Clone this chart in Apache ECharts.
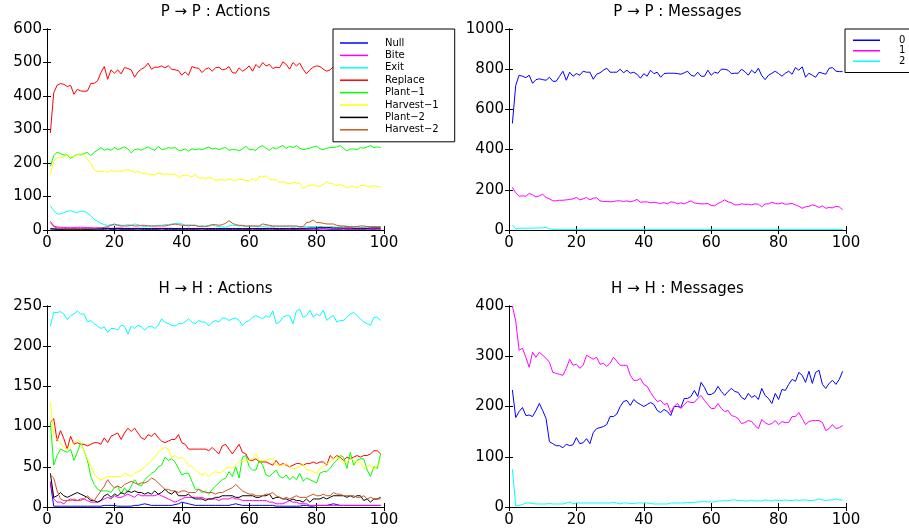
<!DOCTYPE html>
<html>
<head>
<meta charset="utf-8">
<script src="https://cdn.jsdelivr.net/npm/echarts@6/dist/echarts.min.js"></script>
<style>
  html, body { margin: 0; padding: 0; background: #fff; }
  #chart { width: 909px; height: 529px; }
</style>
</head>
<body>
<div id="chart"></div>
<script>
// time steps 1..99
const steps = [1,2,3,4,5,6,7,8,9,10, 11,12,13,14,15,16,17,18,19,20, 21,22,23,24,25,26,27,28,29,30,
  31,32,33,34,35,36,37,38,39,40, 41,42,43,44,45,46,47,48,49,50, 51,52,53,54,55,56,57,58,59,60,
  61,62,63,64,65,66,67,68,69,70, 71,72,73,74,75,76,77,78,79,80, 81,82,83,84,85,86,87,88,89,90,
  91,92,93,94,95,96,97,98,99]

const actionNames = ['Null','Bite','Exit','Replace','Plant\u22121','Harvest\u22121','Plant\u22122','Harvest\u22122']
const actionColors = ['#0000ff','#ff00ff','#00ffff','#ff0000','#00ff00','#ffff00','#000000','#cc5522']
const msgNames = ['0','1','2']
const msgColors = ['#0000ff','#ff00ff','#00ffff']

const xTicks = [0,20,40,60,80,100]

// P -> P : Actions
const ppNull = [4,3,2,2,2,2,2,2,2,2, 2,2,2,2,2,2,2,3,2,2, 3,2,2,2,2,2,3,2,2,2, 2,2,2,3,2,2,2,2,2,2,
  2,2,2,2,2,3,2,2,2,2, 2,2,2,2,2,2,2,2,2,2, 3,2,2,2,2,2,2,2,2,2, 2,2,2,2,2,2,2,2,3,2,
  3,4,3,2,2,2,2,3,2,2, 2,2,2,2,3,2,2,3,2]
const ppBite = [26,12,9,8,8,7,7,7,8,8, 8,7,7,6,6,6,6,6,5,5, 6,6,5,5,5,5,5,5,5,4, 5,5,5,5,5,5,5,4,5,4,
  4,5,4,4,4,5,4,4,4,4, 4,4,4,4,4,4,4,3,4,4, 4,3,4,4,3,4,3,4,4,3, 3,3,3,4,3,3,3,3,3,4,
  3,3,3,3,3,3,3,3,3,3, 3,2,3,3,3,3,3,3,3]
const ppExit = [72,58,48,48,52,56,58,54,52,56, 56,50,42,32,26,20,16,14,16,14, 16,14,14,16,14,18,16,12,10,12,
  12,12,14,14,16,16,18,18,20,18, 14,16,14,14,12,10,12,14,14,12, 10,10,8,12,14,14,12,12,10,12,
  12,10,10,10,12,12,10,10,10,10, 10,10,8,10,10,10,10,10,10,10, 10,8,8,10,10,8,10,12,12,10,
  8,10,8,8,10,8,8,8,8]
const ppReplace = [290,410,432,437,435,428,432,405,420,415, 414,415,437,438,445,470,488,450,478,468,
  478,466,485,482,478,456,472,480,486,498, 480,486,486,490,484,490,480,478,476,462,
  472,462,488,484,483,470,480,484,474,484, 486,478,480,488,470,468,484,474,480,490,
  474,494,484,500,490,494,482,486,484,502, 494,480,500,490,498,480,466,478,486,490,
  488,480,474,478,488,472,500,484,488,470, 478,484,476,490,478,486,480,488,482]
const ppPlant1 = [190,222,232,228,224,224,214,220,226,224, 228,232,222,232,238,246,238,242,238,246,
  240,244,248,242,230,240,242,238,244,248, 242,238,250,240,242,246,244,246,238,238,
  242,236,242,240,242,240,244,248,242,244, 240,244,246,238,240,240,236,242,250,240,
  240,238,248,252,244,238,246,242,248,252, 244,250,246,252,244,240,242,244,248,250,
  242,240,244,246,246,248,252,244,236,242, 242,240,246,244,248,252,246,248,246]
const ppHarvest1 = [165,205,215,218,218,225,220,218,225,228, 225,210,200,180,175,175,176,172,178,174,
  176,176,178,180,176,172,176,170,168,168, 166,164,170,168,166,168,164,168,156,162,
  164,162,158,166,155,156,152,158,154,148, 150,150,148,152,150,148,152,150,148,146,
  154,146,160,158,162,152,150,150,142,144, 140,138,142,140,140,124,130,134,134,132,
  130,136,144,138,138,132,136,132,126,130, 130,126,132,134,130,130,132,130,128]
const ppPlant2 = [3,3,3,3,3,3,3,3,3,3, 3,3,3,4,4,4,4,4,4,4, 4,4,4,4,4,4,4,4,4,4, 4,4,4,4,4,4,4,4,4,4,
  4,4,4,4,4,4,4,4,4,4, 4,4,4,4,4,4,4,4,4,4, 4,4,4,4,5,5,5,4,4,4, 4,4,4,4,5,5,5,6,6,6,
  8,8,8,7,6,6,6,6,6,6, 5,5,5,5,5,6,6,6,6]
const ppHarvest2 = [22,10,6,5,4,4,4,4,4,4, 4,5,5,5,6,6,8,10,14,18, 14,12,12,12,14,12,12,14,14,12,
  12,12,12,12,12,14,16,18,16,14, 14,12,14,14,10,12,10,12,16,16, 14,16,20,28,20,16,14,14,12,12,
  12,12,12,18,16,14,12,12,12,12, 12,12,12,12,10,10,22,24,30,22, 22,20,18,18,18,14,12,12,10,10,
  10,10,12,12,10,10,10,10,10]

// P -> P : Messages
const ppMsg0 = [530,720,770,765,758,770,730,748,752,748, 745,760,740,740,765,790,745,785,765,778,
  770,790,785,785,750,775,782,795,805,785, 785,785,800,782,795,780,785,775,755,778,
  765,795,778,785,760,778,780,780,780,778, 775,782,790,770,765,785,765,765,795,770,
  785,780,800,800,795,778,780,780,800,788, 770,795,780,805,768,748,770,780,790,778,
  765,780,790,775,808,795,812,760,780,770, 760,785,780,775,805,808,790,788,788]
const ppMsg1 = [212,185,168,170,168,182,175,165,170,178, 162,155,145,145,148,148,150,152,155,162,
  150,155,162,150,158,160,145,142,142,140, 142,145,145,142,145,140,145,152,138,140,
  140,135,138,135,132,136,130,140,138,130, 135,130,138,145,135,132,130,130,132,122,
  120,132,140,150,140,135,125,125,130,128, 128,125,130,128,115,130,130,138,132,130,
  135,128,130,132,125,118,108,115,118,125, 120,112,120,108,112,110,118,115,100]
const ppMsg2 = [25,6,9,9,9,9,9,10,10,11, 13,5,3,3,3,3,3,3,3,3, 3,3,3,3,3,3,3,3,3,3, 3,3,3,3,3,3,3,3,3,3,
  3,3,3,3,3,3,3,3,3,3, 3,3,3,3,3,3,3,3,3,3, 3,3,3,3,3,3,3,3,3,3, 3,3,3,3,3,3,3,3,3,3,
  3,3,3,3,3,3,3,3,3,3, 3,3,3,3,3,3,3,3,3]

// H -> H : Actions
const hhNull = [30,1,1,1,1,1,1,1,1,1, 1,1,1,1,1,1,2,2,2,2, 1,1,1,1,1,2,2,3,4,3, 2,2,2,2,2,2,2,3,4,6,
  5,4,3,2,2,2,2,2,2,2, 2,2,2,2,3,4,3,2,2,2, 2,2,2,2,2,2,2,1,1,1, 1,1,1,1,1,2,2,1,1,2,
  2,2,2,3,4,3,2,2,2,2, 2,2,2,2,2,2,2,2,2]
const hhBite = [32,10,6,6,4,8,10,8,8,10, 10,8,6,6,6,8,10,12,10,14, 12,12,14,16,14,12,16,14,14,14,
  14,14,16,14,12,10,8,6,8,10, 12,12,12,12,12,12,10,10,10,10, 8,10,10,10,12,10,10,8,8,8,
  8,8,8,8,8,6,6,4,4,4, 6,8,6,6,4,4,4,2,2,2, 2,2,2,2,2,2,2,2,2,2, 2,2,2,2,2,2,2,2,2]
const hhExit = [225,242,242,243,240,233,238,240,244,240, 240,230,232,228,225,222,224,217,222,222,
  220,226,225,215,225,222,226,224,220,224, 225,222,226,234,230,228,226,225,228,228,
  230,234,230,228,232,230,230,225,230,232, 230,235,235,232,234,235,232,226,230,232,
  236,238,236,234,238,236,244,228,230,236, 238,238,228,244,246,236,238,245,236,240,
  238,245,232,236,238,230,232,232,236,240, 242,238,234,230,228,226,236,236,232]
const hhReplace = [105,110,82,95,85,72,88,78,80,78, 78,76,78,80,80,78,86,80,88,90,
  92,84,92,98,94,98,92,86,84,90, 88,92,86,82,80,82,84,84,90,80,
  78,72,72,72,72,72,72,70,74,70, 66,76,78,72,66,72,78,68,66,58,
  58,60,56,56,56,54,52,58,52,54, 52,50,52,54,54,52,54,54,56,54,
  56,56,52,64,60,64,62,58,62,60, 62,64,62,64,64,66,70,70,66]
const hhPlant1 = [105,52,64,72,70,68,72,58,68,80, 70,58,38,28,22,20,20,20,18,24,
  26,16,24,18,26,34,28,26,34,38, 42,44,50,52,62,58,60,56,48,40,
  42,42,32,22,22,18,20,16,22,26, 30,34,36,44,38,50,36,62,64,50,
  46,46,58,52,40,38,42,46,38,36, 40,34,38,34,42,32,36,34,32,30,
  42,44,44,48,54,58,64,62,48,68, 52,58,60,60,46,38,50,48,66]
const hhHarvest1 = [130,88,84,80,74,72,76,80,84,80, 70,60,50,42,36,34,36,38,38,38,
  38,38,42,40,38,42,44,46,50,54, 58,62,68,72,74,72,62,64,60,62,
  58,52,50,46,42,40,42,38,42,44, 42,44,48,50,48,52,56,56,58,58,
  60,66,58,58,58,60,60,52,52,52, 54,50,48,48,50,54,46,46,44,42,
  48,50,54,56,60,62,60,54,56,60, 58,56,56,48,50,52,46,52,56]
const hhPlant2 = [42,12,14,18,14,12,14,16,18,16, 14,12,8,8,6,8,14,16,12,16,
  14,18,16,20,18,20,18,18,16,18, 16,20,16,18,22,18,16,20,14,14,
  14,16,12,10,10,10,8,10,10,12, 12,14,14,14,14,12,12,14,14,14,
  14,12,12,14,14,16,10,12,12,10, 10,8,10,8,8,6,10,6,10,10,
  10,12,10,12,14,14,14,14,12,14, 12,14,14,8,10,6,10,10,12]
const hhHarvest2 = [40,36,20,10,8,8,8,10,8,8, 10,14,10,8,14,20,26,34,28,24,
  26,24,28,30,32,30,28,30,30,32, 36,34,30,26,22,22,20,20,18,20,
  20,18,18,18,22,20,18,18,18,16, 18,18,20,22,24,28,24,20,18,16,
  16,14,14,14,16,16,18,14,12,10, 12,10,12,14,12,12,12,14,16,14,
  14,16,14,14,18,16,16,14,14,14, 14,12,12,14,10,12,10,10,10]

// H -> H : Messages
const hhMsg0 = [233,178,190,198,182,183,180,192,206,192, 176,130,126,122,122,118,125,122,124,138,
  126,128,136,126,148,156,158,160,164,180, 180,185,200,210,212,202,214,208,204,200,
  204,208,204,192,188,194,190,182,200,200, 198,216,216,220,232,220,248,238,224,224,
  228,240,230,222,230,236,230,228,218,214, 226,218,222,214,236,222,216,206,226,214,
  234,232,244,254,250,268,262,248,270,246, 268,272,244,236,246,252,244,254,270]
const hhMsg1 = [400,370,312,316,298,278,308,298,308,302, 296,288,268,266,264,262,276,294,282,284,
  276,282,302,298,294,298,284,286,280,286, 298,290,282,282,282,262,252,252,256,244,
  240,228,218,210,212,204,206,188,200,206, 196,204,210,208,208,216,222,212,204,196,
  196,206,196,190,192,182,180,176,166,168, 172,170,162,156,174,168,164,166,172,164,
  170,168,168,180,180,188,176,164,170,172, 172,172,168,152,156,164,156,158,162]
const hhMsg2 = [75,2,3,5,8,8,7,6,6,6, 6,7,6,6,6,6,8,10,6,8, 8,8,8,8,8,8,8,8,8,8,
  9,8,6,8,8,7,7,8,8,8, 8,7,6,6,6,6,6,8,8,8, 8,8,9,9,9,10,10,11,10,10,
  10,12,12,13,12,14,14,13,13,12, 12,13,12,12,12,14,13,12,14,13,
  13,14,13,13,14,13,14,14,13,13, 14,16,14,13,14,14,16,14,14]

const panels = [
  { title: 'P \u2192 P : Actions',  left: 47,  top: 29,  max: 600,  step: 100, names: actionNames, colors: actionColors,
    data: [ppNull, ppBite, ppExit, ppReplace, ppPlant1, ppHarvest1, ppPlant2, ppHarvest2] },
  { title: 'P \u2192 P : Messages', left: 509, top: 29,  max: 1000, step: 200, names: msgNames, colors: msgColors,
    data: [ppMsg0, ppMsg1, ppMsg2] },
  { title: 'H \u2192 H : Actions',  left: 47,  top: 306, max: 250,  step: 50,  names: actionNames, colors: actionColors,
    data: [hhNull, hhBite, hhExit, hhReplace, hhPlant1, hhHarvest1, hhPlant2, hhHarvest2] },
  { title: 'H \u2192 H : Messages', left: 509, top: 306, max: 400,  step: 100, names: msgNames, colors: msgColors,
    data: [hhMsg0, hhMsg1, hhMsg2] }
]

const font = 'DejaVu Sans'
const gw = 337, gh = 201

let grid = [], xAxis = [], yAxis = [], title = [], series = []
panels.forEach((p, k) => {
  grid.push({ left: p.left, top: p.top, width: gw, height: gh, show: false })
  title.push({
    text: p.title, left: p.left + gw / 2, top: p.top - 24, textAlign: 'center', padding: 0,
    textStyle: { fontFamily: font, fontSize: 15, fontWeight: 'normal', color: '#000' }
  })
  const line = { show: true, lineStyle: { color: '#000', width: 1 } }
  const tick = { show: true, inside: true, length: 4, lineStyle: { color: '#000' } }
  xAxis.push({
    type: 'value', gridIndex: k, min: 0, max: 100, interval: 20, position: 'bottom',
    axisLine: line, axisTick: tick, splitLine: { show: false },
    axisLabel: { margin: 6, fontFamily: font, fontSize: 15, color: '#000',
      formatter: v => xTicks.indexOf(v) >= 0 ? String(v) : '' }
  })
  xAxis.push({
    type: 'value', gridIndex: k, min: 0, max: 100, interval: 20, position: 'top',
    axisLine: line, axisTick: tick, splitLine: { show: false }, axisLabel: { show: false }
  })
  yAxis.push({
    type: 'value', gridIndex: k, min: 0, max: p.max, interval: p.step, position: 'left',
    axisLine: line, axisTick: tick, splitLine: { show: false },
    axisLabel: { margin: 5, fontFamily: font, fontSize: 15, color: '#000', formatter: v => String(v) }
  })
  yAxis.push({
    type: 'value', gridIndex: k, min: 0, max: p.max, interval: p.step, position: 'right',
    axisLine: line, axisTick: tick, splitLine: { show: false }, axisLabel: { show: false }
  })
  p.data.forEach((ys, i) => {
    series.push({
      name: p.names[i], type: 'line', xAxisIndex: k * 2, yAxisIndex: k * 2,
      data: steps.map((x, j) => [x, ys[j]]),
      symbol: 'none', color: p.colors[i],
      lineStyle: { width: 1, color: p.colors[i] }
    })
  })
})

const legend = [
  {
    data: actionNames, orient: 'vertical', left: 333, top: 29,
    padding: [8, 16, 6, 7], itemGap: 0.4, itemWidth: 28, itemHeight: 1.5, icon: 'rect',
    backgroundColor: '#fff', borderColor: '#000', borderWidth: 1, borderRadius: 0,
    textStyle: { fontFamily: font, fontSize: 10, lineHeight: 12, color: '#000', padding: [0, 0, 0, 12] }
  },
  {
    data: msgNames, orient: 'vertical', left: 845, top: 29,
    padding: [6, 20, 6, 8], itemGap: 0, itemWidth: 27, itemHeight: 1.5, icon: 'rect',
    backgroundColor: '#fff', borderColor: '#000', borderWidth: 1, borderRadius: 0,
    textStyle: { fontFamily: font, fontSize: 10, lineHeight: 10.5, color: '#000', padding: [0, 0, 0, 14] }
  }
]

const myChart = echarts.init(document.getElementById('chart'))
myChart.setOption({
  animation: false,
  backgroundColor: '#fff',
  title: title,
  legend: legend,
  grid: grid,
  xAxis: xAxis,
  yAxis: yAxis,
  series: series
})
</script>
</body>
</html>
